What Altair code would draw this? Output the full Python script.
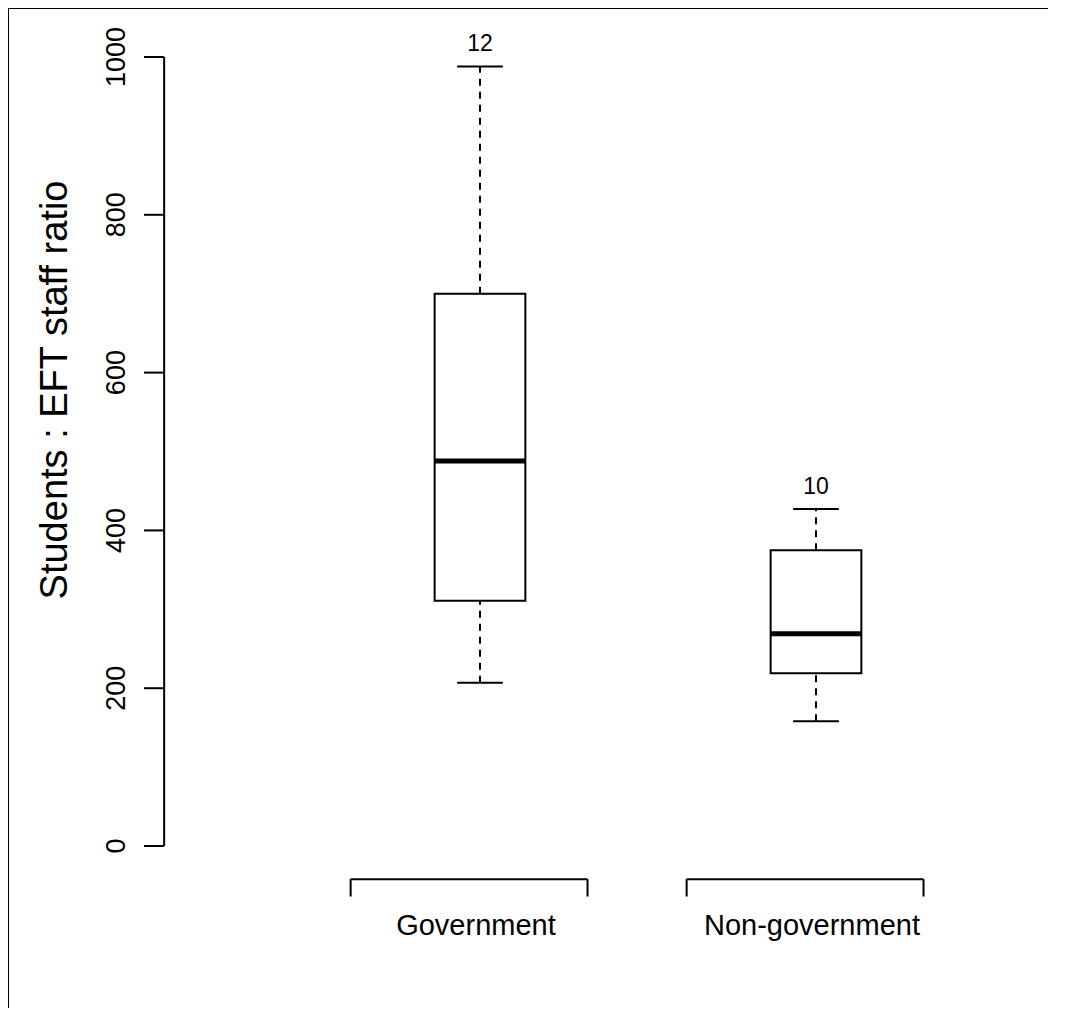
import altair as alt
import pandas as pd

# ---- data ----
groups = ["Government", "Non-government"]
group_pos = [1, 2]
lower_whisker = [207, 158]
q1 = [311, 219]
median = [488, 269]
q3 = [700, 375]
upper_whisker = [988, 427]
counts = ["12", "10"]
y_ticks = [0, 200, 400, 600, 800, 1000]
y_title = "Students : EFT staff ratio"

# layout constants (in data units of the scales)
X_DOMAIN = [-0.40476, 2.69048]
Y_DOMAIN = [-205.3, 1062.1]
BOX_HALF = 0.135
CAP_HALF = 0.068
AXIS_X = 0.06
TICK_X0 = 0.0
LABEL_X = -0.08
TITLE_X = -0.262
TITLE_Y = 578
BRACKET_TOP = -42
BRACKET_BOT = -64
CAT_LABEL_Y = -102

FONT = "Liberation Sans"
FS_TICK = 27
FS_CAT = 29
FS_TITLE = 38

boxes = pd.DataFrame({
    "group": groups, "pos": group_pos, "lw": lower_whisker, "q1": q1,
    "med": median, "q3": q3, "uw": upper_whisker, "n": counts,
})
boxes["xl"] = boxes["pos"] - BOX_HALF
boxes["xr"] = boxes["pos"] + BOX_HALF
boxes["cl"] = boxes["pos"] - CAP_HALF
boxes["cr"] = boxes["pos"] + CAP_HALF
boxes["bl"] = boxes["pos"] - 0.385
boxes["br"] = boxes["pos"] + 0.32
boxes["bt"] = BRACKET_TOP
boxes["bb"] = BRACKET_BOT
boxes["ly"] = CAT_LABEL_Y
boxes["lx"] = boxes["pos"] - 0.012

ticks = pd.DataFrame({"v": y_ticks, "lab": [str(t) for t in y_ticks]})

xs = alt.Scale(domain=X_DOMAIN, nice=False, zero=False)
ys = alt.Scale(domain=Y_DOMAIN, nice=False, zero=False)

base = alt.Chart(boxes)


def X(f):
    return alt.X(f, type="quantitative", scale=xs, axis=None)


def Y(f):
    return alt.Y(f, type="quantitative", scale=ys, axis=None)


dash = [7, 6]

whisk_up = base.mark_rule(color="black", strokeWidth=2, strokeDash=dash).encode(
    x=X("pos"), y=Y("q3"), y2="uw")
whisk_lo = base.mark_rule(color="black", strokeWidth=2, strokeDash=dash).encode(
    x=X("pos"), y=Y("lw"), y2="q1")
cap_up = base.mark_rule(color="black", strokeWidth=2).encode(
    x=X("cl"), x2="cr", y=Y("uw"))
cap_lo = base.mark_rule(color="black", strokeWidth=2).encode(
    x=X("cl"), x2="cr", y=Y("lw"))
box = base.mark_rect(fill="white", stroke="black", strokeWidth=2).encode(
    x=X("xl"), x2="xr", y=Y("q1"), y2="q3")
med = base.mark_rule(color="black", strokeWidth=5).encode(
    x=X("xl"), x2="xr", y=Y("med"))
ntext = base.mark_text(font=FONT, fontSize=23, dy=-22, baseline="middle").encode(
    x=X("pos"), y=Y("uw"), text="n:N")

br_h = base.mark_rule(color="black", strokeWidth=2).encode(
    x=X("bl"), x2="br", y=Y("bt"))
br_l = base.mark_rule(color="black", strokeWidth=2).encode(
    x=X("bl"), y=Y("bt"), y2="bb")
br_r = base.mark_rule(color="black", strokeWidth=2).encode(
    x=X("br"), y=Y("bt"), y2="bb")
cat = base.mark_text(font=FONT, fontSize=FS_CAT, baseline="middle").encode(
    x=X("lx"), y=Y("ly"), text="group:N")

tbase = alt.Chart(ticks)
axis_line = tbase.transform_aggregate(lo="min(v)", hi="max(v)").transform_calculate(
    ax=str(AXIS_X)).mark_rule(color="black", strokeWidth=2).encode(
    x=X("ax"), y=Y("lo"), y2="hi")
tick_marks = tbase.transform_calculate(t0=str(TICK_X0), t1=str(AXIS_X)).mark_rule(
    color="black", strokeWidth=2).encode(x=X("t0"), x2="t1", y=Y("v"))
tick_labels = tbase.transform_calculate(lx=str(LABEL_X)).mark_text(
    font=FONT, fontSize=FS_TICK, angle=270, align="center", baseline="middle").encode(
    x=X("lx"), y=Y("v"), text="lab:N")
title_df = pd.DataFrame({"t": [y_title], "tx": [TITLE_X], "ty": [TITLE_Y]})
title = alt.Chart(title_df).mark_text(
    font=FONT, fontSize=FS_TITLE, angle=270, align="center", baseline="middle").encode(
    x=X("tx"), y=Y("ty"), text="t:N")

# outer frame (left and top edges; right and bottom lie outside the window)
frame_df = pd.DataFrame({"x0": [X_DOMAIN[0]], "x1": [X_DOMAIN[1]],
                         "y0": [Y_DOMAIN[0]], "y1": [Y_DOMAIN[1]]})
frame_top = alt.Chart(frame_df).mark_rule(color="black", strokeWidth=2).encode(
    x=X("x0"), x2="x1", y=Y("y1"))
frame_left = alt.Chart(frame_df).mark_rule(color="black", strokeWidth=2).encode(
    x=X("x0"), y=Y("y0"), y2="y1")

chart = alt.layer(
    frame_top, frame_left,
    whisk_up, whisk_lo, cap_up, cap_lo, box, med, ntext,
    br_h, br_l, br_r, cat, axis_line, tick_marks, tick_labels, title,
).properties(
    width=1040, height=1000, padding=0,
    autosize=alt.AutoSizeParams(type="none"),
).configure_view(stroke="transparent", strokeWidth=0)

chart.save("out.html", embed_options={"renderer": "svg", "actions": False})
